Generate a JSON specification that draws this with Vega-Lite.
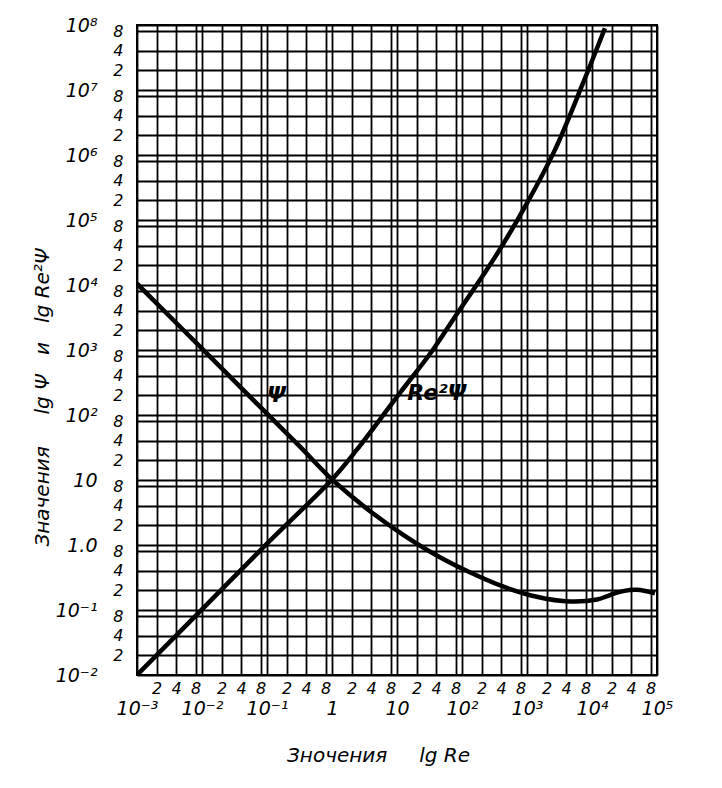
{
  "$schema": "https://vega.github.io/schema/vega-lite/v6.json",
  "width": 520,
  "height": 650,
  "autosize": {"type": "none"},
  "padding": {"left": 137, "top": 25, "right": 65, "bottom": 113},
  "background": "white",
  "config": {
    "view": {"stroke": "black", "strokeWidth": 2},
    "font": "DejaVu Sans",
    "axis": {
      "grid": true,
      "gridColor": "black",
      "gridOpacity": 1,
      "gridWidth": 1.8,
      "domain": false,
      "ticks": false,
      "labelColor": "black",
      "labelFont": "DejaVu Sans",
      "labelFontStyle": "italic",
      "labelOverlap": false,
      "labelFlush": false,
      "labelBound": false,
      "titleColor": "black",
      "titleFont": "DejaVu Sans",
      "titleFontStyle": "italic",
      "titleFontWeight": "normal",
      "titleFontSize": 20
    }
  },
  "datasets": {
    "curves": [
      {"series": "Ψ", "Re": 0.001, "v": 10470},
      {"series": "Ψ", "Re": 0.01, "v": 1047},
      {"series": "Ψ", "Re": 0.1, "v": 104.7},
      {"series": "Ψ", "Re": 0.316, "v": 33.1},
      {"series": "Ψ", "Re": 1.0, "v": 10.2},
      {"series": "Ψ", "Re": 2.0, "v": 5.62},
      {"series": "Ψ", "Re": 3.85, "v": 3.31},
      {"series": "Ψ", "Re": 12.3, "v": 1.45},
      {"series": "Ψ", "Re": 41, "v": 0.69},
      {"series": "Ψ", "Re": 132, "v": 0.38},
      {"series": "Ψ", "Re": 427, "v": 0.23},
      {"series": "Ψ", "Re": 1410, "v": 0.16},
      {"series": "Ψ", "Re": 4570, "v": 0.135},
      {"series": "Ψ", "Re": 12000, "v": 0.145},
      {"series": "Ψ", "Re": 19000, "v": 0.17},
      {"series": "Ψ", "Re": 30000, "v": 0.195},
      {"series": "Ψ", "Re": 49000, "v": 0.205},
      {"series": "Ψ", "Re": 93000, "v": 0.18},
      {"series": "Re²Ψ", "Re": 0.001, "v": 0.01},
      {"series": "Re²Ψ", "Re": 0.01, "v": 0.102},
      {"series": "Re²Ψ", "Re": 0.1, "v": 1.05},
      {"series": "Re²Ψ", "Re": 1.0, "v": 10.2},
      {"series": "Re²Ψ", "Re": 2.43, "v": 29.5},
      {"series": "Re²Ψ", "Re": 11.1, "v": 219},
      {"series": "Re²Ψ", "Re": 31.6, "v": 851},
      {"series": "Re²Ψ", "Re": 72, "v": 2880},
      {"series": "Re²Ψ", "Re": 347, "v": 30200},
      {"series": "Re²Ψ", "Re": 1000, "v": 182000},
      {"series": "Re²Ψ", "Re": 2690, "v": 1200000},
      {"series": "Re²Ψ", "Re": 7240, "v": 12600000},
      {"series": "Re²Ψ", "Re": 15800, "v": 89000000}
    ],
    "labels": [
      {"label": "Ψ", "Re": 0.14, "v": 200},
      {"label": "Re²Ψ", "Re": 41, "v": 219}
    ]
  },
  "encoding": {
    "x": {
      "field": "Re",
      "type": "quantitative",
      "scale": {"type": "log", "domain": [0.001, 100000], "nice": false},
      "axis": {
        "title": "Зночения\u00a0\u00a0\u00a0\u00a0\u00a0lg\u00a0Re",
        "titleX": 241,
        "titleY": 70,
        "values": [0.001, 0.002, 0.004, 0.008, 0.01, 0.02, 0.04, 0.08, 0.1, 0.2, 0.4, 0.8, 1, 2, 4, 8, 10, 20, 40, 80, 100, 200, 400, 800, 1000, 2000, 4000, 8000, 10000, 20000, 40000, 80000, 100000],
        "labelExpr": "abs(log(datum.value)/LN10 - round(log(datum.value)/LN10)) < 0.01 ? (round(log(datum.value)/LN10) == 0 ? '1' : round(log(datum.value)/LN10) == 1 ? '10' : '10' + (round(log(datum.value)/LN10) < 0 ? '⁻' : '') + ['⁰','¹','²','³','⁴','⁵','⁶','⁷','⁸','⁹'][abs(round(log(datum.value)/LN10))]) : format(datum.value / pow(10, floor(log(datum.value)/LN10 + 0.001)), '.0f')",
        "labelPadding": {"condition": {"test": "abs(log(datum.value)/LN10 - round(log(datum.value)/LN10)) < 0.01", "value": 24}, "value": 5},
        "labelFontSize": {"condition": {"test": "abs(log(datum.value)/LN10 - round(log(datum.value)/LN10)) < 0.01", "value": 19}, "value": 16}
      }
    },
    "y": {
      "field": "v",
      "type": "quantitative",
      "scale": {"type": "log", "domain": [0.01, 100000000], "nice": false},
      "axis": {
        "title": "Значения\u00a0\u00a0\u00a0\u00a0\u00a0lg\u00a0Ψ\u00a0\u00a0\u00a0и\u00a0\u00a0\u00a0lg\u00a0Re²Ψ",
        "titleX": -85,
        "titleY": 372,
        "values": [0.01, 0.02, 0.04, 0.08, 0.1, 0.2, 0.4, 0.8, 1, 2, 4, 8, 10, 20, 40, 80, 100, 200, 400, 800, 1000, 2000, 4000, 8000, 10000, 20000, 40000, 80000, 100000, 200000, 400000, 800000, 1000000, 2000000, 4000000, 8000000, 10000000, 20000000, 40000000, 80000000, 100000000],
        "labelExpr": "abs(log(datum.value)/LN10 - round(log(datum.value)/LN10)) < 0.01 ? (round(log(datum.value)/LN10) == 0 ? '1.0' : round(log(datum.value)/LN10) == 1 ? '10' : '10' + (round(log(datum.value)/LN10) < 0 ? '⁻' : '') + ['⁰','¹','²','³','⁴','⁵','⁶','⁷','⁸','⁹'][abs(round(log(datum.value)/LN10))]) : format(datum.value / pow(10, floor(log(datum.value)/LN10 + 0.001)), '.0f')",
        "labelPadding": {"condition": {"test": "abs(log(datum.value)/LN10 - round(log(datum.value)/LN10)) < 0.01", "value": 40}, "value": 14},
        "labelFontSize": {"condition": {"test": "abs(log(datum.value)/LN10 - round(log(datum.value)/LN10)) < 0.01", "value": 19}, "value": 16}
      }
    }
  },
  "layer": [
    {
      "data": {"name": "curves"},
      "mark": {"type": "line", "stroke": "black", "strokeWidth": 4.5, "interpolate": "catmull-rom", "clip": true},
      "encoding": {
        "detail": {"field": "series", "type": "nominal"}
      }
    },
    {
      "data": {"name": "labels"},
      "mark": {"type": "text", "fontSize": 22, "fontStyle": "italic", "fontWeight": "bold", "color": "black", "align": "center", "baseline": "middle"},
      "encoding": {
        "text": {"field": "label", "type": "nominal"}
      }
    }
  ]
}
